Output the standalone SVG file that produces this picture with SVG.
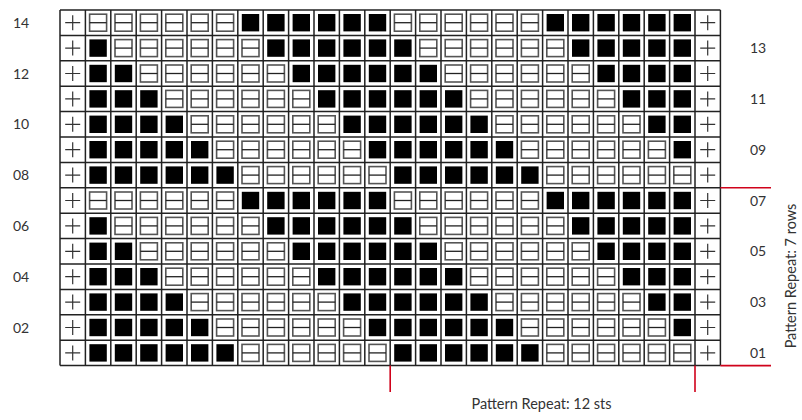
<svg xmlns="http://www.w3.org/2000/svg" width="802" height="420" viewBox="0 0 802 420">
<style>
.grid{fill:none;stroke:#222;stroke-width:1.5}
.ob{fill:none;stroke:#555;stroke-width:1.6}
.om{stroke:#222;stroke-width:1.3}
.pl{fill:none;stroke:#333;stroke-width:1.2}
.red{stroke:#d0021b;stroke-width:1.6;fill:none}
.t{font-family:Lato,"Noto Sans","DejaVu Sans",sans-serif;font-size:14px;fill:#333}
.big{font-size:14.5px}
</style>
<defs>
<rect id="b" x="4" y="4" width="17.4" height="17.4" fill="#000"/>
<g id="o"><rect class="ob" x="4.2" y="4.2" width="17" height="17"/><line class="om" x1="4.2" y1="12.7" x2="21.2" y2="12.7"/></g>
<path id="p" class="pl" d="M5.2 12.7H20.2M12.7 5.2V20.2"/>
<g id="r1"><use href="#p" x="60"/><use href="#b" x="85.4"/><use href="#b" x="110.8"/><use href="#b" x="136.2"/><use href="#b" x="161.6"/><use href="#b" x="187"/><use href="#b" x="212.4"/><use href="#o" x="237.8"/><use href="#o" x="263.2"/><use href="#o" x="288.6"/><use href="#o" x="314"/><use href="#o" x="339.4"/><use href="#o" x="364.8"/><use href="#b" x="390.2"/><use href="#b" x="415.6"/><use href="#b" x="441"/><use href="#b" x="466.4"/><use href="#b" x="491.8"/><use href="#b" x="517.2"/><use href="#o" x="542.6"/><use href="#o" x="568"/><use href="#o" x="593.4"/><use href="#o" x="618.8"/><use href="#o" x="644.2"/><use href="#o" x="669.6"/><use href="#p" x="695"/></g>
<g id="r2"><use href="#p" x="60"/><use href="#b" x="85.4"/><use href="#b" x="110.8"/><use href="#b" x="136.2"/><use href="#b" x="161.6"/><use href="#b" x="187"/><use href="#o" x="212.4"/><use href="#o" x="237.8"/><use href="#o" x="263.2"/><use href="#o" x="288.6"/><use href="#o" x="314"/><use href="#o" x="339.4"/><use href="#b" x="364.8"/><use href="#b" x="390.2"/><use href="#b" x="415.6"/><use href="#b" x="441"/><use href="#b" x="466.4"/><use href="#b" x="491.8"/><use href="#o" x="517.2"/><use href="#o" x="542.6"/><use href="#o" x="568"/><use href="#o" x="593.4"/><use href="#o" x="618.8"/><use href="#o" x="644.2"/><use href="#b" x="669.6"/><use href="#p" x="695"/></g>
<g id="r3"><use href="#p" x="60"/><use href="#b" x="85.4"/><use href="#b" x="110.8"/><use href="#b" x="136.2"/><use href="#b" x="161.6"/><use href="#o" x="187"/><use href="#o" x="212.4"/><use href="#o" x="237.8"/><use href="#o" x="263.2"/><use href="#o" x="288.6"/><use href="#o" x="314"/><use href="#b" x="339.4"/><use href="#b" x="364.8"/><use href="#b" x="390.2"/><use href="#b" x="415.6"/><use href="#b" x="441"/><use href="#b" x="466.4"/><use href="#o" x="491.8"/><use href="#o" x="517.2"/><use href="#o" x="542.6"/><use href="#o" x="568"/><use href="#o" x="593.4"/><use href="#o" x="618.8"/><use href="#b" x="644.2"/><use href="#b" x="669.6"/><use href="#p" x="695"/></g>
<g id="r4"><use href="#p" x="60"/><use href="#b" x="85.4"/><use href="#b" x="110.8"/><use href="#b" x="136.2"/><use href="#o" x="161.6"/><use href="#o" x="187"/><use href="#o" x="212.4"/><use href="#o" x="237.8"/><use href="#o" x="263.2"/><use href="#o" x="288.6"/><use href="#b" x="314"/><use href="#b" x="339.4"/><use href="#b" x="364.8"/><use href="#b" x="390.2"/><use href="#b" x="415.6"/><use href="#b" x="441"/><use href="#o" x="466.4"/><use href="#o" x="491.8"/><use href="#o" x="517.2"/><use href="#o" x="542.6"/><use href="#o" x="568"/><use href="#o" x="593.4"/><use href="#b" x="618.8"/><use href="#b" x="644.2"/><use href="#b" x="669.6"/><use href="#p" x="695"/></g>
<g id="r5"><use href="#p" x="60"/><use href="#b" x="85.4"/><use href="#b" x="110.8"/><use href="#o" x="136.2"/><use href="#o" x="161.6"/><use href="#o" x="187"/><use href="#o" x="212.4"/><use href="#o" x="237.8"/><use href="#o" x="263.2"/><use href="#b" x="288.6"/><use href="#b" x="314"/><use href="#b" x="339.4"/><use href="#b" x="364.8"/><use href="#b" x="390.2"/><use href="#b" x="415.6"/><use href="#o" x="441"/><use href="#o" x="466.4"/><use href="#o" x="491.8"/><use href="#o" x="517.2"/><use href="#o" x="542.6"/><use href="#o" x="568"/><use href="#b" x="593.4"/><use href="#b" x="618.8"/><use href="#b" x="644.2"/><use href="#b" x="669.6"/><use href="#p" x="695"/></g>
<g id="r6"><use href="#p" x="60"/><use href="#b" x="85.4"/><use href="#o" x="110.8"/><use href="#o" x="136.2"/><use href="#o" x="161.6"/><use href="#o" x="187"/><use href="#o" x="212.4"/><use href="#o" x="237.8"/><use href="#b" x="263.2"/><use href="#b" x="288.6"/><use href="#b" x="314"/><use href="#b" x="339.4"/><use href="#b" x="364.8"/><use href="#b" x="390.2"/><use href="#o" x="415.6"/><use href="#o" x="441"/><use href="#o" x="466.4"/><use href="#o" x="491.8"/><use href="#o" x="517.2"/><use href="#o" x="542.6"/><use href="#b" x="568"/><use href="#b" x="593.4"/><use href="#b" x="618.8"/><use href="#b" x="644.2"/><use href="#b" x="669.6"/><use href="#p" x="695"/></g>
<g id="r7"><use href="#p" x="60"/><use href="#o" x="85.4"/><use href="#o" x="110.8"/><use href="#o" x="136.2"/><use href="#o" x="161.6"/><use href="#o" x="187"/><use href="#o" x="212.4"/><use href="#b" x="237.8"/><use href="#b" x="263.2"/><use href="#b" x="288.6"/><use href="#b" x="314"/><use href="#b" x="339.4"/><use href="#b" x="364.8"/><use href="#o" x="390.2"/><use href="#o" x="415.6"/><use href="#o" x="441"/><use href="#o" x="466.4"/><use href="#o" x="491.8"/><use href="#o" x="517.2"/><use href="#b" x="542.6"/><use href="#b" x="568"/><use href="#b" x="593.4"/><use href="#b" x="618.8"/><use href="#b" x="644.2"/><use href="#b" x="669.6"/><use href="#p" x="695"/></g>
</defs>
<rect width="802" height="420" fill="#fff"/>
<g id="chart">
<use href="#r7" y="10"/>
<use href="#r6" y="35.4"/>
<use href="#r5" y="60.8"/>
<use href="#r4" y="86.2"/>
<use href="#r3" y="111.6"/>
<use href="#r2" y="137"/>
<use href="#r1" y="162.4"/>
<use href="#r7" y="187.8"/>
<use href="#r6" y="213.2"/>
<use href="#r5" y="238.6"/>
<use href="#r4" y="264"/>
<use href="#r3" y="289.4"/>
<use href="#r2" y="314.8"/>
<use href="#r1" y="340.2"/>
</g>
<path id="gridlines" class="grid" d="M60 10V365.6M85.4 10V365.6M110.8 10V365.6M136.2 10V365.6M161.6 10V365.6M187 10V365.6M212.4 10V365.6M237.8 10V365.6M263.2 10V365.6M288.6 10V365.6M314 10V365.6M339.4 10V365.6M364.8 10V365.6M390.2 10V365.6M415.6 10V365.6M441 10V365.6M466.4 10V365.6M491.8 10V365.6M517.2 10V365.6M542.6 10V365.6M568 10V365.6M593.4 10V365.6M618.8 10V365.6M644.2 10V365.6M669.6 10V365.6M695 10V365.6M720.4 10V365.6M60 10H720.4M60 35.4H720.4M60 60.8H720.4M60 86.2H720.4M60 111.6H720.4M60 137H720.4M60 162.4H720.4M60 187.8H720.4M60 213.2H720.4M60 238.6H720.4M60 264H720.4M60 289.4H720.4M60 314.8H720.4M60 340.2H720.4M60 365.6H720.4"/>
<g id="repeat-markers" class="red">
<path d="M390.2 365.6V392M695 365.6V392M720.4 365.6H771M720.4 187.8H771"/>
</g>
<g id="row-labels" class="t">
<text x="13" y="27.7">14</text>
<text x="13" y="78.5">12</text>
<text x="13" y="129.3">10</text>
<text x="13" y="180.1">08</text>
<text x="13" y="230.9">06</text>
<text x="13" y="281.7">04</text>
<text x="13" y="332.5">02</text>
<text x="750" y="53.1">13</text>
<text x="750" y="103.9">11</text>
<text x="750" y="154.7">09</text>
<text x="750" y="205.5">07</text>
<text x="750" y="256.3">05</text>
<text x="750" y="307.1">03</text>
<text x="750" y="357.9">01</text>
</g>
<text class="t big" x="541.5" y="408.5" text-anchor="middle">Pattern Repeat: 12 sts</text>
<text class="t big" transform="translate(795.5 276) rotate(-90)" text-anchor="middle">Pattern Repeat: 7 rows</text>
</svg>
